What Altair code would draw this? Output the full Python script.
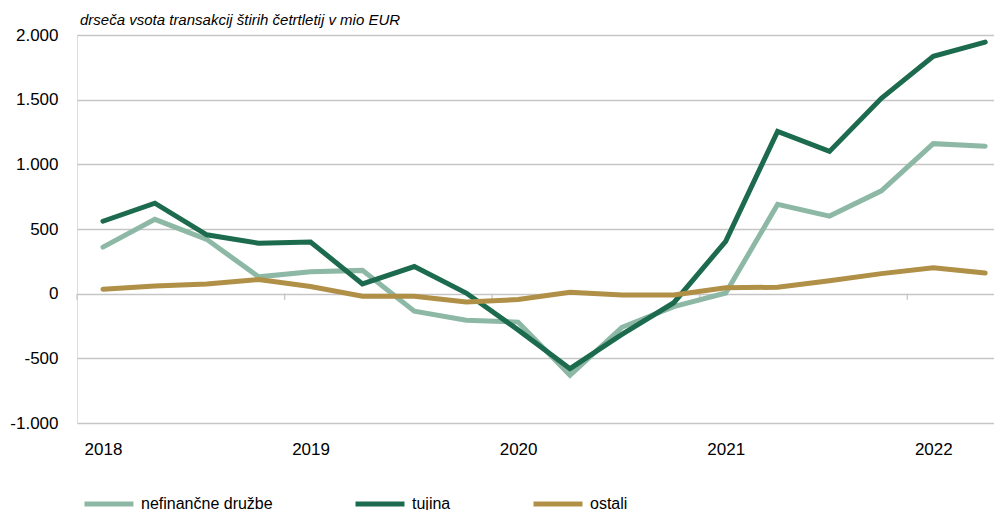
import altair as alt
import pandas as pd

# quarterly observations 2018Q1 .. 2022Q2
quarter_index = list(range(18))
year_labels = ["2018", "2019", "2020", "2021", "2022"]
year_label_pos = [0, 4, 8, 12, 16]
year_bounds = [-0.5, 3.5, 7.5, 11.5, 15.5]

nefinancne = [360, 575, 420, 130, 170, 180, -135, -205, -220, -630,
              -260, -100, 5, 690, 600, 795, 1160, 1140]
tujina = [560, 700, 455, 390, 400, 75, 210, 5, -280, -580,
          -315, -70, 405, 1255, 1100, 1510, 1835, 1945]
ostali = [35, 60, 75, 110, 55, -20, -20, -65, -45, 10,
          -10, -10, 45, 50, 100, 155, 200, 160]

series_names = ["nefinančne družbe", "tujina", "ostali"]
series_colors = ["#8db8a5", "#1d6b4e", "#b08f47"]
y_ticks = [-1000, -500, 0, 500, 1000, 1500, 2000]
subtitle = "drseča vsota transakcij štirih četrtletij v mio EUR"

FONT = "Liberation Sans"

rows = []
for name, vals in zip(series_names, [nefinancne, tujina, ostali]):
    for q, v in zip(quarter_index, vals):
        rows.append({"q": q, "value": v, "serija": name})
df = pd.DataFrame(rows)

x_scale = alt.Scale(domain=[-0.5, 17.17], nice=False, zero=False)
y_scale = alt.Scale(domain=[-1000, 2000], nice=False)

label_map = "{" + ",".join(f"'{p}':'{l}'" for p, l in zip(year_label_pos, year_labels)) + "}"

lines = alt.Chart(df).mark_line(strokeWidth=5, strokeCap="round").encode(
    x=alt.X("q:Q", scale=x_scale, title=None,
            axis=alt.Axis(values=year_label_pos, labelExpr=f"{label_map}[datum.value]",
                          grid=False, ticks=False, domain=False, tickSize=0,
                          labelFont=FONT, labelFontSize=17, labelColor="#000000",
                          labelPadding=18, labelFlush=False)),
    y=alt.Y("value:Q", scale=y_scale, title=None,
            axis=alt.Axis(values=y_ticks,
                          labelExpr="(datum.value < 0 ? '-' : '') + replace(format(abs(datum.value), ','), ',', '.')",
                          grid=True, gridColor="#c6c6c6", gridWidth=1.3,
                          ticks=False, domain=False, tickSize=0,
                          labelFont=FONT, labelFontSize=17, labelColor="#000000",
                          labelPadding=19)),
    color=alt.Color("serija:N",
                    scale=alt.Scale(domain=series_names, range=series_colors),
                    sort=series_names,
                    legend=alt.Legend(title=None, orient="none", direction="horizontal",
                                      legendX=5, legendY=442, columns=3,
                                      symbolType="stroke", symbolSize=2400,
                                      symbolStrokeWidth=5, labelFont=FONT,
                                      labelFontSize=16, labelColor="#000000",
                                      labelOffset=5, columnPadding=72,
                                      labelLimit=400, padding=0)),
    order=alt.Order("q:Q"),
)

ticks_df = pd.DataFrame({"b": year_bounds})
zero_ticks = alt.Chart(ticks_df).mark_rule(color="#c6c6c6", strokeWidth=1.3).encode(
    x=alt.X("b:Q", scale=x_scale),
    y=alt.datum(0),
    y2=alt.datum(-48),
)

title_df = pd.DataFrame({"t": [subtitle]})
title = alt.Chart(title_df).mark_text(
    align="left", baseline="alphabetic", font=FONT, fontStyle="italic",
    fontSize=15, color="#000000"
).encode(text="t:N", x=alt.value(3), y=alt.value(-10))

chart = alt.layer(zero_ticks, lines, title).properties(
    width=917, height=388,
    padding={"left": 69, "top": 27, "right": 0, "bottom": 87},
    autosize=alt.AutoSizeParams(type="none"),
).configure_view(stroke=None).configure(background="#ffffff")

chart.save("out.html", embed_options={"renderer": "svg", "actions": False})
